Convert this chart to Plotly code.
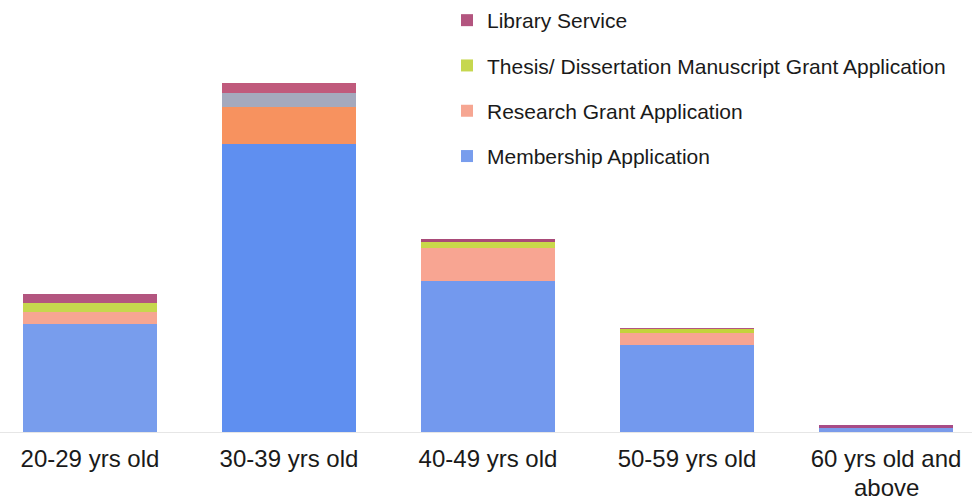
import plotly.graph_objects as go

categories = ["20-29", "30-39", "40-49", "50-59", "60+"]
label_lines = [["20-29 yrs old"], ["30-39 yrs old"], ["40-49 yrs old"], ["50-59 yrs old"],
               ["60 yrs old and", "above"]]

membership = [108, 288, 151, 87, 4]
research = [12, 37, 33, 12, 0]
thesis = [9, 14, 6, 4, 0]
library = [9, 10, 3, 0.6, 3]

series_names = ["Membership Application", "Research Grant Application",
                "Thesis/ Dissertation Manuscript Grant Application", "Library Service"]
legend_ranks = [4, 3, 2, 1]

blue = ["#789ded", "#5f8ff0", "#7399ee", "#7399ee", "#7a9bea"]
salmon = ["#f6a692", "#f7925f", "#f8a592", "#f7a492", "#f6a692"]
green = ["#c6d74e", "#a5a9bd", "#c9d84a", "#c4d23c", "#c6d74e"]
magenta = ["#b3557f", "#c05a7c", "#a94a78", "#b3557f", "#a84b86"]

fig = go.Figure()
for name, vals, cols, rank in zip(series_names, [membership, research, thesis, library],
                                  [blue, salmon, green, magenta], legend_ranks):
    fig.add_trace(go.Bar(x=categories, y=vals, name=name, width=0.673,
                         marker=dict(color=cols, line=dict(width=0)),
                         legendgroup=name, legendrank=rank))

# extra lines of wrapped category labels
annotations = []
for cat, lines in zip(categories, label_lines):
    for k, line in enumerate(lines[1:], start=1):
        annotations.append(dict(x=cat, xref="x", y=-0.1296 - (k - 1) * 0.062, yref="paper",
                                text=line, showarrow=False, yanchor="middle",
                                font=dict(size=24, color="#1a1a1a")))

fig.update_layout(
    barmode="stack",
    width=972, height=502,
    margin=dict(l=0, r=0, t=0, b=70),
    plot_bgcolor="white", paper_bgcolor="white",
    font=dict(family="Liberation Sans, Arial, sans-serif", color="#1a1a1a"),
    showlegend=True,
    legend=dict(x=0.4599, y=1.0, xanchor="left", yanchor="top",
                traceorder="grouped", tracegroupgap=15,
                font=dict(size=21, color="#1a1a1a"),
                bgcolor="rgba(0,0,0,0)", itemwidth=30),
    xaxis=dict(range=[-0.452, 4.432], showgrid=False, showline=True,
               linecolor="#e6e6e6", linewidth=1, ticks="",
               tickvals=categories, ticktext=[l[0] for l in label_lines],
               ticklabelstandoff=5,
               tickfont=dict(size=24, color="#1a1a1a"), automargin=False),
    yaxis=dict(range=[0, 432], showgrid=False, showticklabels=False,
               zeroline=False, showline=False, automargin=False),
    bargap=0.327,
    annotations=annotations,
)

fig.write_html("out.html", config={"displayModeBar": False},
               post_script="document.body.style.margin='0px';")
